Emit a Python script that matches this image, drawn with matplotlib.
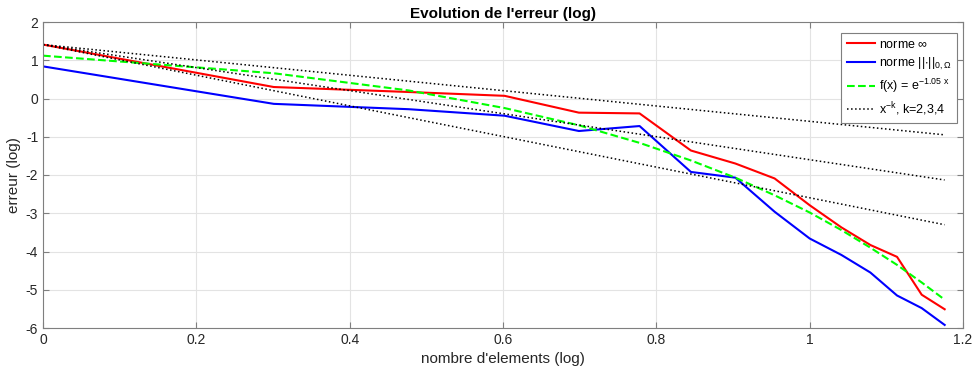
import numpy as np
import matplotlib.pyplot as plt

plt.rcParams['font.family'] = ['Liberation Sans', 'DejaVu Sans']
plt.rcParams['mathtext.fontset'] = 'dejavusans'
plt.rcParams['mathtext.default'] = 'regular'
plt.rcParams['axes.unicode_minus'] = False

# log10 of the number of elements (1..15)
x = np.log10(np.arange(1, 16))
# error curves (log)
err_inf = [1.41, 0.30, 0.17, 0.07, -0.37, -0.39, -1.36, -1.70, -2.09,
           -2.79, -3.37, -3.83, -4.14, -5.13, -5.51]
err_l2 = [0.84, -0.14, -0.28, -0.45, -0.85, -0.72, -1.92, -2.07, -2.96,
          -3.66, -4.09, -4.55, -5.15, -5.48, -5.92]
fit = [1.12, 0.66, 0.21, -0.25, -0.70, -1.16, -1.62, -2.07, -2.53,
       -2.98, -3.44, -3.90, -4.35, -4.81, -5.26]
# reference slopes x^-k : start value and end values
ref_x = [0.0, 1.176]
ref_start = 1.41
ref_end = [-0.95, -2.13, -3.30]

fig = plt.figure(figsize=(9.74, 3.78), dpi=100)
ax = fig.add_axes([43/974, 1-328/378, 920/974, 306/378])

ax.plot(x, err_inf, color='red', lw=1.5, label=r'norme $\infty$')
ax.plot(x, err_l2, color='blue', lw=1.5, label=r'norme $||{\cdot}||_{0,\Omega}$')
ax.plot(x, fit, '--', color='#00ff00', lw=1.5, label=r'f(x) = e$^{-1.05\ x}$')
for i, e in enumerate(ref_end):
    ax.plot(ref_x, [ref_start, e], ':', color='black', lw=1.1,
            label=r'x$^{-k}$, k=2,3,4' if i == 0 else None)

ax.set_xlim(0, 1.2)
ax.set_ylim(-6, 2)
ax.set_xticks(np.arange(0, 1.21, 0.2))
ax.set_xticklabels(['0', '0.2', '0.4', '0.6', '0.8', '1', '1.2'])
ax.set_yticks(range(-6, 3))
ax.grid(True, color='#e3e3e3', lw=0.8)
ax.set_axisbelow(True)
for s in ax.spines.values():
    s.set_color('#7f7f7f')
    s.set_linewidth(0.8)
ax.tick_params(direction='in', length=4, colors='#7f7f7f', labelcolor='#262626',
               labelsize=10, top=True, right=True)

ax.set_title("Evolution de l'erreur (log)", fontsize=11, fontweight='bold', pad=3)
ax.set_xlabel("nombre d'elements (log)", fontsize=11, color='#262626')
ax.set_ylabel('erreur (log)', fontsize=11, color='#262626')
ax.yaxis.set_label_coords(-22/920, 0.5)

leg = ax.legend(loc='upper right', bbox_to_anchor=(957/974, 1-33/378),
                bbox_transform=fig.transFigure, fontsize=9, fancybox=False,
                framealpha=1, edgecolor='#7f7f7f', handlelength=2.3,
                handletextpad=0.25, borderaxespad=0, borderpad=0.45,
                labelspacing=0.4)
leg.get_frame().set_linewidth(0.8)

fig.savefig('out.png', dpi=100)
